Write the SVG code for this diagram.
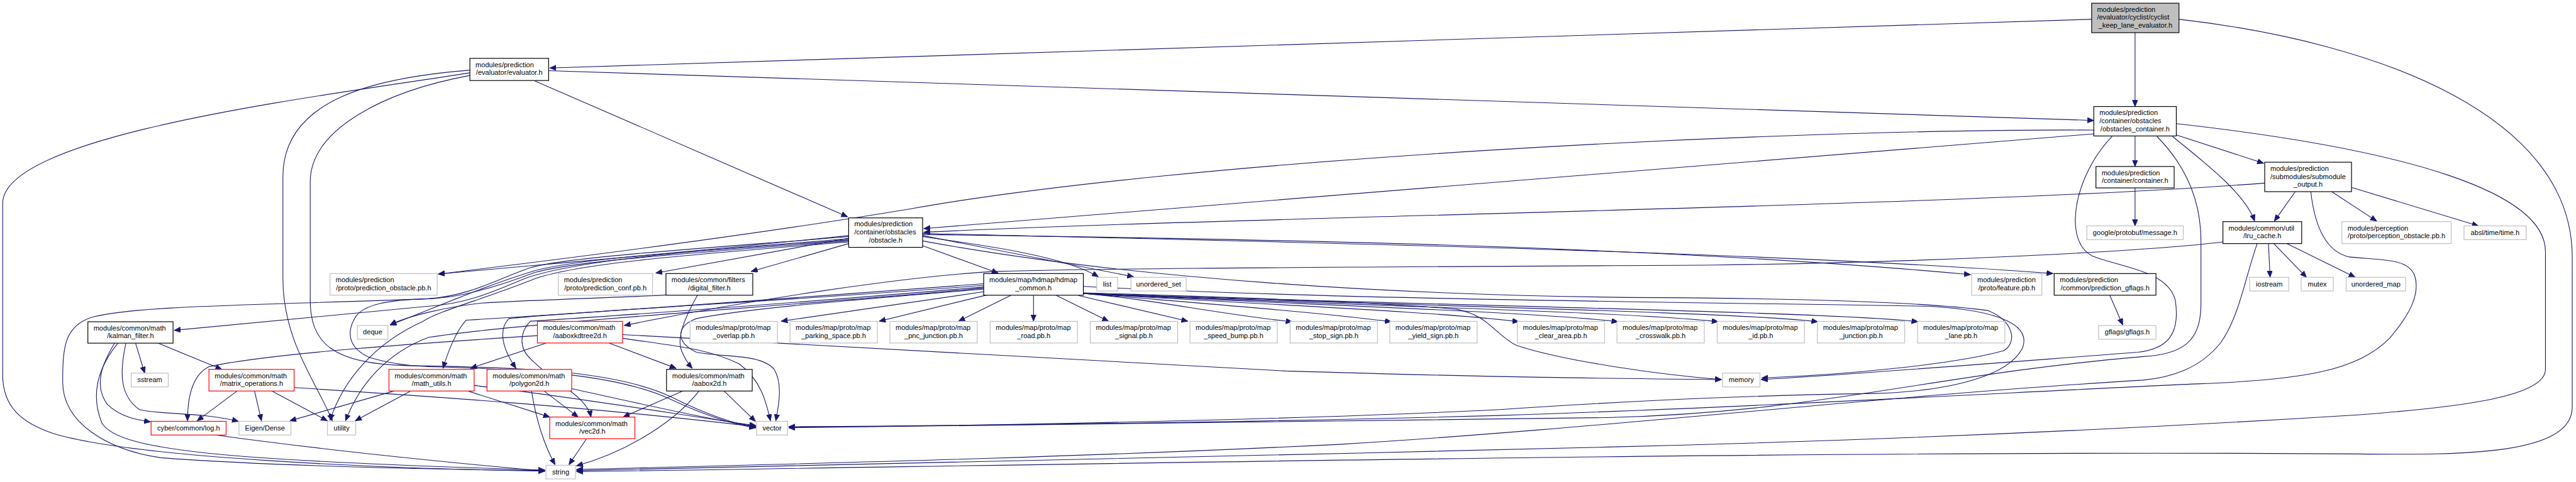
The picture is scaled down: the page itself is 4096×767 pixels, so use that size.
<svg xmlns="http://www.w3.org/2000/svg" width="4096" height="767" viewBox="0 0 4096 767">
<style>
.e{fill:none;stroke:#191970;stroke-width:1.3;marker-end:url(#ah)}
rect.b{fill:#fff;stroke:#000;stroke-width:1.4}
rect.g{fill:#fff;stroke:#bfbfbf;stroke-width:1.4}
rect.r{fill:#fff;stroke:#ff0000;stroke-width:1.4}
rect.root{fill:#bfbfbf;stroke:#000;stroke-width:1.4}
text{font-family:"Liberation Sans",Arial,sans-serif;font-size:13px;fill:#000}
.c{text-anchor:middle}
</style>
<defs>
<marker id="ah" markerWidth="13" markerHeight="11" refX="12" refY="5" orient="auto" markerUnits="userSpaceOnUse"><path d="M0,0 L12,5 L0,10 z" fill="#191970" stroke="#191970" stroke-width="1"/></marker>
</defs>
<rect x="0" y="0" width="4096" height="767" fill="#fff"/>
<g transform="scale(0.851913)">
<g id="edges">
<path class="e" d="M3904,36 L1026,127"/>
<path class="e" d="M3985,61 L3985,199"/>
<path class="e" d="M4067,36 C4450,80 4801,220 4801,480 L4801,760 C4801,850 4600,850 4400,848 C3400,840 2000,868 1076,881"/>
<path class="e" d="M1024,132 L3908,225"/>
<path class="e" d="M998,151 L1582,405"/>
<path class="e" d="M877,136 C600,180 5,250 5,380 L5,700 C5,760 40,790 100,810 C250,855 700,875 1017,880"/>
<path class="e" d="M877,131 C700,145 528,185 528,330 L528,520 C528,640 595,720 620,786"/>
<path class="e" d="M877,141 C720,170 579,240 579,340 L579,560 C579,640 620,680 760,683 C1000,686 1150,695 1250,740 C1320,775 1370,792 1411,798"/>
<path class="e" d="M3908,243 C3300,240 2200,300 1700,390 C1400,440 1000,490 818,512"/>
<path class="e" d="M3908,250 L1724,427"/>
<path class="e" d="M3985,254 L3985,311"/>
<path class="e" d="M4062,252 L4225,305"/>
<path class="e" d="M4055,255 C4110,300 4190,360 4208,413"/>
<path class="e" d="M3942,255 C3870,330 3850,450 3905,478 C3960,500 4045,505 4060,560 C4070,625 4045,652 3990,658 C3700,680 3450,700 3287,709"/>
<path class="e" d="M4026,255 C4090,320 4108,390 4108,450 L4108,570 C4108,640 4070,662 4000,666 C3600,700 3400,770 3000,780 C2400,790 1800,797 1472,799"/>
<path class="e" d="M4062,231 C4500,280 4751,360 4751,470 L4751,690 C4751,740 4600,760 4400,775 C4000,800 3500,823 3000,835 C2300,852 1500,872 1076,879"/>
<path class="e" d="M3985,351 L3985,422"/>
<path class="e" d="M4227,342 C3800,375 3000,392 2400,410 C2000,421 1800,430 1724,434"/>
<path class="e" d="M4284,358 L4245,413"/>
<path class="e" d="M4352,358 L4436,413"/>
<path class="e" d="M4389,350 L4626,422"/>
<path class="e" d="M4313,358 C4320,420 4340,470 4385,480 C4445,486 4495,482 4507,515 C4517,548 4500,585 4460,632 C4400,692 4300,710 4100,717 C3800,730 3300,760 2800,776 C2300,790 1800,795 1472,797"/>
<path class="e" d="M4234,455 L4237,518"/>
<path class="e" d="M4244,455 L4305,518"/>
<path class="e" d="M4268,455 L4396,518"/>
<path class="e" d="M4213,455 C4190,520 4180,590 4145,640 C4105,690 4050,705 4000,710 C3500,740 3000,800 2500,830 C2000,855 1500,866 1076,877"/>
<path class="e" d="M4149,452 C4000,470 3600,490 3200,495 C2600,499 2100,500 1860,507 C1700,515 1400,560 1165,608"/>
<path class="e" d="M3938,552 L3962,607"/>
<path class="e" d="M1584,440 C1300,470 1000,495 818,512"/>
<path class="e" d="M1584,445 L1224,510"/>
<path class="e" d="M1584,455 L1402,507"/>
<path class="e" d="M1584,448 C1300,470 1100,480 1000,505 C900,535 800,580 728,607"/>
<path class="e" d="M1584,446 C1300,468 1080,485 980,520 C920,545 870,568 800,572 L325,617"/>
<path class="e" d="M1722,459 L1863,510"/>
<path class="e" d="M1722,442 C1850,460 1990,480 2050,517"/>
<path class="e" d="M1722,440 L2116,517"/>
<path class="e" d="M1722,438 C2400,447 3100,460 3678,513"/>
<path class="e" d="M1722,436 C2400,452 3300,470 3832,511"/>
<path class="e" d="M1722,450 C2100,520 2600,553 3100,556 C3400,558 3600,565 3710,580 C3760,600 3765,640 3740,655 C3650,680 3450,700 3288,706"/>
<path class="e" d="M1584,452 C1300,475 1090,490 1000,520 C900,560 820,580 790,600 C700,640 640,710 616,785"/>
<path class="e" d="M1584,442 C1300,465 1060,480 990,500 C930,520 880,552 800,558 C500,570 250,570 170,593 C120,610 117,650 117,713 C117,790 200,840 300,855 C500,870 800,877 1017,879"/>
<path class="e" d="M1584,450 C1300,472 1070,487 995,510 C930,535 860,556 800,558 C720,560 680,570 665,590 C645,620 650,650 690,668 C730,680 770,684 800,685 C1000,690 1150,700 1250,745 C1320,778 1370,793 1411,799"/>
<path class="e" d="M1302,551 C1280,590 1262,630 1272,655 C1278,670 1285,680 1292,688"/>
<path class="e" d="M1243,551 C1150,556 1000,560 900,566 C840,572 760,590 728,607"/>
<path class="e" d="M1836,530 C1500,555 1100,585 870,598 C850,620 835,660 827,688"/>
<path class="e" d="M1836,533 C1500,560 1100,580 950,595 C935,610 930,640 963,688"/>
<path class="e" d="M1836,536 C1500,565 1150,590 990,600 C970,620 968,650 990,670 C1040,720 1095,740 1103,779"/>
<path class="e" d="M1836,540 C1600,560 1400,575 1300,595 C1260,610 1262,640 1300,658 C1350,668 1420,660 1445,690 C1460,715 1455,750 1448,786"/>
<path class="e" d="M1836,538 C1500,570 1000,600 800,630 C720,660 670,720 645,786"/>
<path class="e" d="M1836,545 L1458,600"/>
<path class="e" d="M1842,551 L1641,600"/>
<path class="e" d="M1886,552 L1789,600"/>
<path class="e" d="M1929,552 L1929,600"/>
<path class="e" d="M1972,552 L2069,600"/>
<path class="e" d="M2013,552 L2217,600"/>
<path class="e" d="M2022,548 C2158,560 2262,585 2412,601"/>
<path class="e" d="M2022,548 C2220,565 2450,582 2597,601"/>
<path class="e" d="M2022,548 C2300,566 2690,582 2835,601"/>
<path class="e" d="M2022,548 C2370,567 2870,582 3020,601"/>
<path class="e" d="M2022,548 C2430,568 3050,582 3207,601"/>
<path class="e" d="M2022,548 C2500,568 3240,582 3393,601"/>
<path class="e" d="M2022,548 C2570,568 3420,582 3580,601"/>
<path class="e" d="M2022,547 C2300,555 2600,565 2720,578 C2780,590 2790,625 2830,645 C2920,675 3100,700 3213,709"/>
<path class="e" d="M2022,535 C2500,560 3200,565 3600,572 C3740,580 3790,610 3775,650 C3750,700 3650,730 3500,735 C3300,738 3100,745 2800,765 C2400,785 1800,796 1472,798"/>
<path class="e" d="M1019,641 L878,688"/>
<path class="e" d="M1137,641 L1262,688"/>
<path class="e" d="M1003,627 C800,640 500,660 390,685 C360,700 350,740 350,786"/>
<path class="e" d="M1162,632 C1250,645 1320,650 1380,680 C1420,710 1430,750 1438,786"/>
<path class="e" d="M1162,625 C1500,645 2000,670 2400,693 C2800,705 3000,707 3213,709"/>
<path class="e" d="M737,730 L541,786"/>
<path class="e" d="M767,730 L663,786"/>
<path class="e" d="M872,730 L1026,779"/>
<path class="e" d="M885,720 C1100,745 1300,780 1411,795"/>
<path class="e" d="M443,730 L368,786"/>
<path class="e" d="M475,730 L488,786"/>
<path class="e" d="M507,730 L611,786"/>
<path class="e" d="M549,724 C800,740 1100,760 1411,797"/>
<path class="e" d="M253,641 L270,697"/>
<path class="e" d="M295,641 L414,690"/>
<path class="e" d="M214,641 C190,680 175,720 200,755 C225,780 260,785 281,788"/>
<path class="e" d="M235,641 C222,700 225,740 260,765 C300,775 380,770 445,787"/>
<path class="e" d="M220,641 C180,690 170,740 190,790 C220,840 400,860 1017,878"/>
<path class="e" d="M398,812 C600,840 850,865 1017,880"/>
<path class="e" d="M1095,819 L1062,868"/>
<path class="e" d="M992,730 C1000,780 1015,830 1036,868"/>
<path class="e" d="M1015,730 L1079,779"/>
<path class="e" d="M1067,726 C1200,755 1330,785 1411,796"/>
<path class="e" d="M1275,730 L1163,779"/>
<path class="e" d="M1305,730 C1250,800 1150,850 1076,870"/>
<path class="e" d="M1351,730 L1410,787"/>
</g>
<g id="n_root"><rect class="root" x="3904" y="6" width="163" height="55"/><text x="3914" y="22">modules/prediction</text><text x="3914" y="36.7">/evaluator/cyclist/cyclist</text><text class="c" x="3985.5" y="52">_keep_lane_evaluator.h</text></g>
<g id="n_evaluator"><rect class="b" x="877" y="109" width="147" height="41.4"/><text x="887.5" y="125.5">modules/prediction</text><text class="c" x="950.5" y="140">/evaluator/evaluator.h</text></g>
<g id="n_obstacles_container"><rect class="b" x="3908" y="199" width="154" height="55"/><text x="3918.5" y="215">modules/prediction</text><text x="3918.5" y="229.7">/container/obstacles</text><text class="c" x="3985" y="245">/obstacles_container.h</text></g>
<g id="n_container"><rect class="b" x="3912" y="311" width="146" height="40"/><text x="3922.5" y="327">modules/prediction</text><text class="c" x="3985" y="341.5">/container/container.h</text></g>
<g id="n_submodule_output"><rect class="b" x="4227" y="303" width="162" height="55"/><text x="4237.5" y="319">modules/prediction</text><text x="4237.5" y="334">/submodules/submodule</text><text class="c" x="4308" y="349">_output.h</text></g>
<g id="n_obstacle"><rect class="b" x="1584" y="407" width="138" height="55"/><text x="1594.5" y="423">modules/prediction</text><text x="1594.5" y="438">/container/obstacles</text><text class="c" x="1653" y="453">/obstacle.h</text></g>
<g id="n_lru_cache"><rect class="b" x="4149" y="414" width="147" height="41"/><text x="4159.5" y="430.5">modules/common/util</text><text class="c" x="4222.5" y="445">/lru_cache.h</text></g>
<g id="n_perception_obstacle"><rect class="g" x="4371" y="414" width="204" height="41"/><text x="4381.5" y="430.5">modules/perception</text><text class="c" x="4473" y="445">/proto/perception_obstacle.pb.h</text></g>
<g id="n_absl_time"><rect class="g" x="4599" y="422" width="116" height="25.6"/><text class="c" x="4657" y="439">absl/time/time.h</text></g>
<g id="n_message"><rect class="g" x="3895" y="422" width="180" height="25.6"/><text class="c" x="3985" y="439">google/protobuf/message.h</text></g>
<g id="n_iostream"><rect class="g" x="4199" y="518" width="73" height="25.6"/><text class="c" x="4235.5" y="535.5">iostream</text></g>
<g id="n_mutex"><rect class="g" x="4295" y="518" width="60" height="25.6"/><text class="c" x="4325" y="535.5">mutex</text></g>
<g id="n_unordered_map"><rect class="g" x="4379" y="518" width="111" height="25.6"/><text class="c" x="4434.5" y="535.5">unordered_map</text></g>
<g id="n_feature"><rect class="g" x="3680" y="511" width="131" height="40.4"/><text x="3690.5" y="527.3">modules/prediction</text><text class="c" x="3745.5" y="541.8">/proto/feature.pb.h</text></g>
<g id="n_prediction_gflags"><rect class="b" x="3834" y="511" width="190" height="40.4"/><text x="3844.5" y="527.3">modules/prediction</text><text class="c" x="3929" y="541.8">/common/prediction_gflags.h</text></g>
<g id="n_gflags"><rect class="g" x="3917" y="608" width="107" height="25.6"/><text class="c" x="3970.5" y="625">gflags/gflags.h</text></g>
<g id="n_prediction_obstacle"><rect class="g" x="616" y="511" width="200" height="40.4"/><text x="626.5" y="527.3">modules/prediction</text><text class="c" x="716" y="541.8">/proto/prediction_obstacle.pb.h</text></g>
<g id="n_prediction_conf"><rect class="g" x="1042" y="511" width="176" height="40.4"/><text x="1052.5" y="527.3">modules/prediction</text><text class="c" x="1130" y="541.8">/proto/prediction_conf.pb.h</text></g>
<g id="n_digital_filter"><rect class="b" x="1243" y="511" width="162" height="40.4"/><text x="1253.5" y="527.3">modules/common/filters</text><text class="c" x="1324" y="541.8">/digital_filter.h</text></g>
<g id="n_hdmap_common"><rect class="b" x="1836" y="511" width="186" height="40.4"/><text x="1846.5" y="527.3">modules/map/hdmap/hdmap</text><text class="c" x="1929" y="541.8">_common.h</text></g>
<g id="n_list"><rect class="g" x="2047" y="518" width="39" height="25.6"/><text class="c" x="2066.5" y="535.5">list</text></g>
<g id="n_unordered_set"><rect class="g" x="2111" y="518" width="103" height="25.6"/><text class="c" x="2162.5" y="535.5">unordered_set</text></g>
<g id="n_map_overlap"><rect class="g" x="1288" y="600.3" width="163" height="40.4"/><text x="1298.5" y="616.6">modules/map/proto/map</text><text class="c" x="1369.5" y="631">_overlap.pb.h</text></g>
<g id="n_map_parking_space"><rect class="g" x="1474.5" y="600.3" width="163" height="40.4"/><text x="1485" y="616.6">modules/map/proto/map</text><text class="c" x="1556" y="631">_parking_space.pb.h</text></g>
<g id="n_map_pnc_junction"><rect class="g" x="1661" y="600.3" width="163" height="40.4"/><text x="1671.5" y="616.6">modules/map/proto/map</text><text class="c" x="1742.5" y="631">_pnc_junction.pb.h</text></g>
<g id="n_map_road"><rect class="g" x="1848" y="600.3" width="163" height="40.4"/><text x="1858.5" y="616.6">modules/map/proto/map</text><text class="c" x="1929.5" y="631">_road.pb.h</text></g>
<g id="n_map_signal"><rect class="g" x="2035" y="600.3" width="163" height="40.4"/><text x="2045.5" y="616.6">modules/map/proto/map</text><text class="c" x="2116.5" y="631">_signal.pb.h</text></g>
<g id="n_map_speed_bump"><rect class="g" x="2221" y="600.3" width="163" height="40.4"/><text x="2231.5" y="616.6">modules/map/proto/map</text><text class="c" x="2302.5" y="631">_speed_bump.pb.h</text></g>
<g id="n_map_stop_sign"><rect class="g" x="2408" y="600.3" width="163" height="40.4"/><text x="2418.5" y="616.6">modules/map/proto/map</text><text class="c" x="2489.5" y="631">_stop_sign.pb.h</text></g>
<g id="n_map_yield_sign"><rect class="g" x="2594" y="600.3" width="163" height="40.4"/><text x="2604.5" y="616.6">modules/map/proto/map</text><text class="c" x="2675.5" y="631">_yield_sign.pb.h</text></g>
<g id="n_map_clear_area"><rect class="g" x="2832" y="600.3" width="163" height="40.4"/><text x="2842.5" y="616.6">modules/map/proto/map</text><text class="c" x="2913.5" y="631">_clear_area.pb.h</text></g>
<g id="n_map_crosswalk"><rect class="g" x="3018" y="600.3" width="163" height="40.4"/><text x="3028.5" y="616.6">modules/map/proto/map</text><text class="c" x="3099.5" y="631">_crosswalk.pb.h</text></g>
<g id="n_map_id"><rect class="g" x="3205" y="600.3" width="163" height="40.4"/><text x="3215.5" y="616.6">modules/map/proto/map</text><text class="c" x="3286.5" y="631">_id.pb.h</text></g>
<g id="n_map_junction"><rect class="g" x="3392" y="600.3" width="163" height="40.4"/><text x="3402.5" y="616.6">modules/map/proto/map</text><text class="c" x="3473.5" y="631">_junction.pb.h</text></g>
<g id="n_map_lane"><rect class="g" x="3579" y="600.3" width="163" height="40.4"/><text x="3589.5" y="616.6">modules/map/proto/map</text><text class="c" x="3660.5" y="631">_lane.pb.h</text></g>
<g id="n_kalman_filter"><rect class="b" x="164" y="601" width="159" height="40"/><text x="174.5" y="617">modules/common/math</text><text class="c" x="243.5" y="631.3">/kalman_filter.h</text></g>
<g id="n_deque"><rect class="g" x="667" y="608" width="57" height="25.6"/><text class="c" x="695.5" y="625">deque</text></g>
<g id="n_aaboxkdtree2d"><rect class="r" x="1003" y="600.3" width="159" height="40.4"/><text x="1013.5" y="616.6">modules/common/math</text><text class="c" x="1082.5" y="631">/aaboxkdtree2d.h</text></g>
<g id="n_sstream"><rect class="g" x="245" y="697" width="69" height="25.6"/><text class="c" x="279.5" y="714">sstream</text></g>
<g id="n_matrix_operations"><rect class="r" x="390" y="690" width="159" height="40.4"/><text x="400.5" y="706.3">modules/common/math</text><text class="c" x="469.5" y="720.8">/matrix_operations.h</text></g>
<g id="n_math_utils"><rect class="r" x="726" y="690" width="159" height="40.4"/><text x="736.5" y="706.3">modules/common/math</text><text class="c" x="805.5" y="720.8">/math_utils.h</text></g>
<g id="n_polygon2d"><rect class="r" x="909" y="690" width="158" height="40.4"/><text x="919.5" y="706.3">modules/common/math</text><text class="c" x="988" y="720.8">/polygon2d.h</text></g>
<g id="n_aabox2d"><rect class="b" x="1244" y="690" width="160" height="40.4"/><text x="1254.5" y="706.3">modules/common/math</text><text class="c" x="1324" y="720.8">/aabox2d.h</text></g>
<g id="n_memory"><rect class="g" x="3215" y="697" width="70" height="25.6"/><text class="c" x="3250" y="714">memory</text></g>
<g id="n_log"><rect class="r" x="282" y="787" width="140" height="25.6"/><text class="c" x="352" y="804">cyber/common/log.h</text></g>
<g id="n_eigen"><rect class="g" x="446" y="787" width="97" height="25.6"/><text class="c" x="494.5" y="804">Eigen/Dense</text></g>
<g id="n_utility"><rect class="g" x="611" y="787" width="53" height="25.6"/><text class="c" x="637.5" y="804">utility</text></g>
<g id="n_vec2d"><rect class="r" x="1026" y="779" width="159" height="40.4"/><text x="1036.5" y="795.3">modules/common/math</text><text class="c" x="1105.5" y="809.8">/vec2d.h</text></g>
<g id="n_vector"><rect class="g" x="1412" y="787" width="58" height="25.6"/><text class="c" x="1441" y="804">vector</text></g>
<g id="n_string"><rect class="g" x="1019" y="869" width="55" height="25.6"/><text class="c" x="1046.5" y="886">string</text></g>
</g>
</svg>
